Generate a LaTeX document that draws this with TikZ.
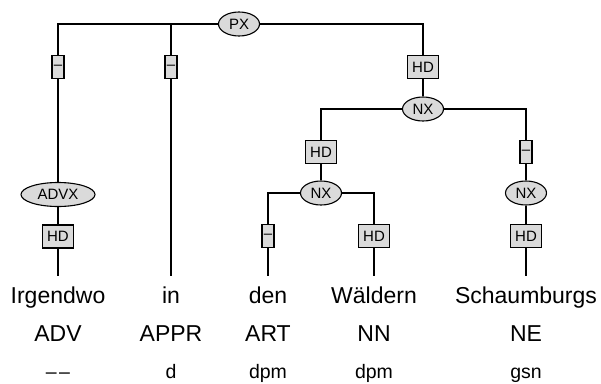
\documentclass[tikz,border=0pt]{standalone}
\usepackage{fontspec}
\setmainfont{Liberation Sans}
\usetikzlibrary{shapes.geometric}
\definecolor{catgray}{RGB}{218,218,218}

\begin{document}
\begin{tikzpicture}[x = 1pt, y = -1pt, line width = 1.1pt,
	phrase/.style = {ellipse, draw, fill = catgray, inner sep = 0pt, minimum width = 41pt, minimum height = 24pt, font = \fontsize{15}{17}\selectfont},
	edgelbl/.style = {rectangle, draw, fill = catgray, inner sep = 0pt, minimum width = 31pt, minimum height = 23pt, font = \fontsize{15}{17}\selectfont},
	dashlbl/.style = {edgelbl, minimum width = 12pt},
	token/.style = {anchor = base, inner xsep = 0pt, inner ysep = 9pt, text height = 17pt, text depth = 5pt, font = \fontsize{23}{27}\selectfont},
	postag/.style = {anchor = base, inner sep = 0pt, font = \fontsize{23}{27}\selectfont},
	morph/.style = {anchor = base, inner sep = 0pt, font = \fontsize{19.5}{23}\selectfont}]
	\useasboundingbox (0,0) rectangle (601,383);
	% words, tags and morphology
	\node [token] (w1) at (58,303) {Irgendwo};
	\node [token] (w2) at (171,303) {in};
	\node [token] (w3) at (268,303) {den};
	\node [token] (w4) at (374,303) {Wäldern};
	\node [token] (w5) at (526,303) {Schaumburgs};
	\node [postag] (t1) at (58,341.7) {ADV};
	\node [postag] (t2) at (171,341.7) {APPR};
	\node [postag] (t3) at (268,341.7) {ART};
	\node [postag] (t4) at (374,341.7) {NN};
	\node [postag] (t5) at (526,341.7) {NE};
	\node [morph] (m1) at (58,378) {\textendash\kern2.5pt\textendash};
	\node [morph] (m2) at (171,378) {d};
	\node [morph] (m3) at (268,378) {dpm};
	\node [morph] (m4) at (374,378) {dpm};
	\node [morph] (m5) at (526,378) {gsn};
	% phrase nodes
	\node [phrase] (px) at (239,24) {PX};
	\node [phrase, minimum width = 74pt] (advx) at (58,194.5) {ADVX};
	\node [phrase] (nxtop) at (423,109) {NX};
	\node [phrase] (nxmid) at (321,193) {NX};
	\node [phrase] (nxright) at (526,193) {NX};
	% edge labels
	\node [dashlbl] (e1) at (58,67) {\textendash};
	\node [dashlbl] (e2) at (171,67) {\textendash};
	\node [edgelbl] (e3) at (423,67) {HD};
	\node [edgelbl] (e4) at (58,236.5) {HD};
	\node [edgelbl] (e5) at (321,152) {HD};
	\node [dashlbl] (e6) at (526,152) {\textendash};
	\node [dashlbl] (e7) at (268,236) {\textendash};
	\node [edgelbl] (e8) at (374,236) {HD};
	\node [edgelbl] (e9) at (526,236) {HD};
	% branches
	\draw (px) -| (e1);
	\draw (e1) -- (advx);
	\draw (advx) -- (e4);
	\draw (e4) -- (w1);
	\draw (px) -| (e2);
	\draw (e2) -- (w2);
	\draw (px) -| (e3);
	\draw (e3) -- (nxtop);
	\draw (nxtop) -| (e5);
	\draw (e5) -- (nxmid);
	\draw (nxmid) -| (e7);
	\draw (e7) -- (w3);
	\draw (nxmid) -| (e8);
	\draw (e8) -- (w4);
	\draw (nxtop) -| (e6);
	\draw (e6) -- (nxright);
	\draw (nxright) -- (e9);
	\draw (e9) -- (w5);
\end{tikzpicture}
\end{document}
